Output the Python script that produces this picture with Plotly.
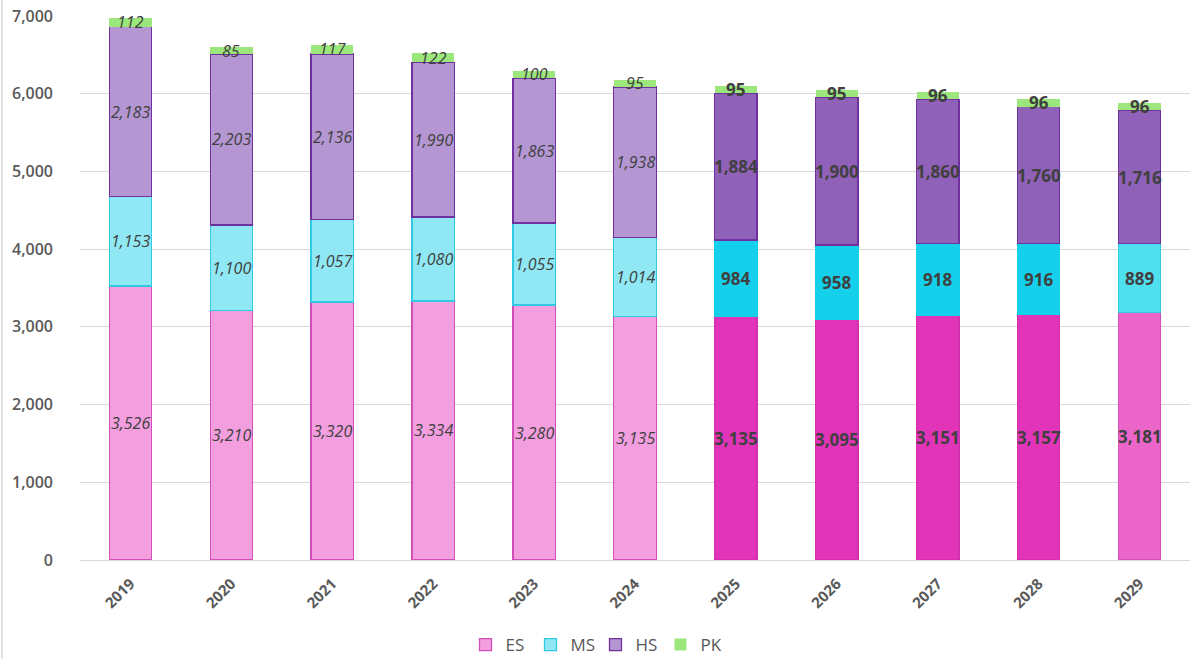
import plotly.graph_objects as go

years = ["2019", "2020", "2021", "2022", "2023", "2024", "2025", "2026", "2027", "2028", "2029"]
ES = [3526, 3210, 3320, 3334, 3280, 3135, 3135, 3095, 3151, 3157, 3181]
MS = [1153, 1100, 1057, 1080, 1055, 1014, 984, 958, 918, 916, 889]
HS = [2183, 2203, 2136, 1990, 1863, 1938, 1884, 1900, 1860, 1760, 1716]
PK = [112, 85, 117, 122, 100, 95, 95, 95, 96, 96, 96]
# period of each bar: historical, projected, last year
period = ["h"] * 6 + ["p"] * 4 + ["l"]

es_fill = {"h": "#F29EDF", "p": "#E234B9", "l": "#EC66C9"}
es_line = {"h": "#D24FB8", "p": "#D22FAD", "l": "#D24FB8"}
ms_fill = {"h": "#8FE8F3", "p": "#14D0EA", "l": "#4FE0F0"}
ms_line = {"h": "#30CBE3", "p": "#14D0EA", "l": "#30CBE3"}
hs_fill = {"h": "#B496D2", "p": "#9061B8", "l": "#9061B8"}
hs_line = {"h": "#7030A0", "p": "#7030A0", "l": "#7030A0"}
pk_fill = "#9CE77B"

fig = go.Figure()
series = [
    ("ES", ES, es_fill, es_line),
    ("MS", MS, ms_fill, ms_line),
    ("HS", HS, hs_fill, hs_line),
]
for name, vals, fc, lc in series:
    fig.add_trace(go.Bar(
        x=years, y=vals, name=name,
        marker=dict(color=[fc[p] for p in period],
                    line=dict(color=[lc[p] for p in period], width=1.3)),
    ))
fig.add_trace(go.Bar(
    x=years, y=PK, name="PK",
    marker=dict(color=pk_fill, line=dict(color=pk_fill, width=0)),
))

# labels (x given as category index)
annotations = []
for i, y in enumerate(years):
    base = 0
    for vals in (ES, MS, HS, PK):
        v = vals[i]
        mid = base + v / 2
        base += v
        if period[i] == "h":
            font = dict(family="Open Sans", size=16, color="#404040", style="italic")
        else:
            font = dict(family="Open Sans", size=17, color="#404040", weight="bold")
        annotations.append(dict(x=i, y=mid, xref="x", yref="y", text=f"{v:,}",
                                showarrow=False, font=font))

fig.update_layout(
    barmode="stack",
    bargap=0.58,
    width=1191, height=659,
    margin=dict(l=80, r=1, t=16, b=99, autoexpand=False),
    plot_bgcolor="white", paper_bgcolor="white",
    font=dict(family="Open Sans", color="#595959"),
    annotations=annotations,
    legend=dict(orientation="h", xref="container", yref="container",
                x=0.5, xanchor="center", y=(659 - 645) / 659, yanchor="middle",
                font=dict(size=17, color="#595959"), traceorder="normal",
                itemwidth=30, entrywidth=20),
    yaxis=dict(range=[0, 7000], dtick=1000, tickformat=",", gridcolor="#D9D9D9",
               gridwidth=1.3, zeroline=False, showline=False, automargin=False,
               tickfont=dict(size=16, color="#595959", weight=600), ticks="",
               ticklabelstandoff=26),
    xaxis=dict(type="category", range=[-0.5, 10.5], tickangle=-45, automargin=False,
               tickfont=dict(size=15, color="#595959", weight="bold"),
               ticklabelstandoff=8,
               showline=True, linecolor="#D9D9D9", linewidth=1.3, ticks=""),
    shapes=[dict(type="line", xref="paper", yref="paper",
                 x0=-78 / 1110, x1=-78 / 1110, y0=-99 / 544, y1=1 + 16 / 544,
                 line=dict(color="#D9D9D9", width=1.5))],
)

fig.write_html("out.html", config={"displayModeBar": False},
               post_script="document.body.style.margin='0';")
